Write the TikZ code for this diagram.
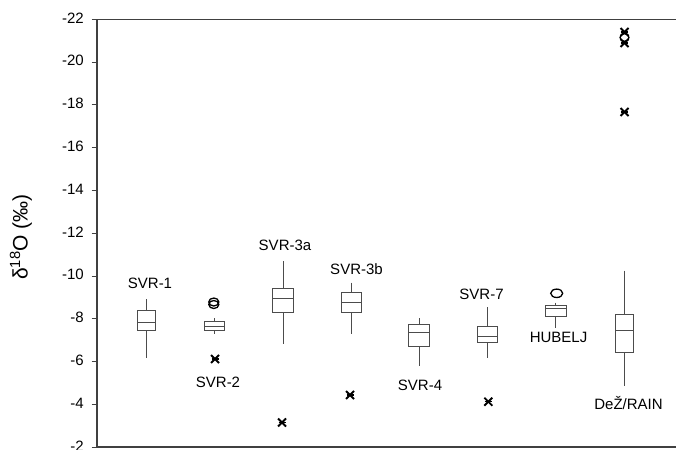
\documentclass[tikz,border=0pt]{standalone}
\usepackage{fontspec}
\setmainfont{Liberation Sans}
\begin{document}
\begin{tikzpicture}[x=1pt,y=-1pt,
  frame/.style={draw=black!75,line width=1.3pt},
  boxline/.style={draw=black!70,line width=0.7pt},
  lbl/.style={font=\fontsize{15}{18}\selectfont,inner sep=0pt},
  ticklbl/.style={font=\fontsize{15}{18}\selectfont,inner sep=0pt,anchor=east},
  outl/.style={draw=black,line width=1.3pt},
  extr/.style={draw=black,line width=1.8pt}]
\useasboundingbox (0,0) rectangle (676,449);
% frame
\draw[frame] (676,19.3) -- (97,19.3) -- (97,447) -- (676,447);
% ticks and labels
\foreach \v/\t in {-22/a,-20/b,-18/c,-16/d,-14/e,-12/f,-10/g,-8/h,-6/i,-4/j,-2/k}{
  \pgfmathsetmacro{\yy}{19.3+(\v+22)*21.4}
  \draw[frame,line width=1pt] (91.5,\yy) -- (97,\yy);
  \node[ticklbl] (tick\t) at (84,\yy-1.5) {\v};
}
% y label
\node[rotate=90,font=\fontsize{21}{24}\selectfont,inner sep=0pt] (ylab) at (21,237) {δ\textsuperscript{18}O (‰)};
% boxplot macro-like drawing
\newcommand{\bxp}[8]{% x, halfwidth, wtop, btop, med, bbot, wbot, name
  \draw[boxline] (#1,#3) -- (#1,#4);
  \draw[boxline] (#1,#6) -- (#1,#7);
  \draw[boxline] (#1-#2,#4) rectangle (#1+#2,#6);
  \draw[boxline] (#1-#2,#5) -- (#1+#2,#5);
  \coordinate (#8) at (#1,#3);
}
\newcommand{\extmark}[2]{%
  \draw[extr] (#1-4,#2-4) -- (#1+4,#2+4);
  \draw[extr] (#1-4,#2+4) -- (#1+4,#2-4);
  \draw[extr,line width=1.2pt] (#1-3.5,#2) -- (#1+3.5,#2);
}
% SVR-1
\bxp{146}{9}{299}{310.7}{322}{330.7}{357.7}{b1}
\node[lbl] (l1) at (150,283) {SVR-1};
% SVR-2
\bxp{214.3}{10}{318.3}{321.7}{326}{330}{334.3}{b2}
\draw[outl] (213.8,302) ellipse (5 and 4);
\draw[outl] (213.8,304.5) ellipse (5 and 4);
\extmark{215}{359}
\node[lbl] (l2) at (218,382) {SVR-2};
% SVR-3a
\bxp{283}{10.5}{261}{288.7}{298.7}{312.3}{344}{b3a}
\extmark{282}{422.5}
\node[lbl] (l3a) at (285,245.5) {SVR-3a};
% SVR-3b
\bxp{351.3}{10}{282.7}{292.3}{302.3}{312.3}{334}{b3b}
\extmark{350}{395}
\node[lbl] (l3b) at (356.5,269.5) {SVR-3b};
% SVR-4
\bxp{419}{10.3}{318.3}{324.3}{332.3}{346.3}{365.7}{b4}
\node[lbl] (l4) at (420,385) {SVR-4};
% SVR-7
\bxp{487}{10}{307}{326.3}{336.7}{342.3}{357.7}{b7}
\extmark{488.3}{401.7}
\node[lbl] (l7) at (481.5,294) {SVR-7};
% HUBELJ
\bxp{555.8}{10.3}{302.7}{305}{308}{316}{328.3}{bh}
\draw[outl] (556.7,293.3) ellipse (6 and 4.2);
\node[lbl] (lh) at (558.5,337) {HUBELJ};
% DeZ/RAIN
\bxp{624.5}{9.2}{270.7}{314.3}{330.7}{352.7}{386}{bd}
\extmark{624.5}{112}
\extmark{624.5}{32}
\extmark{624.5}{43}
\draw[outl] (624.5,37.5) ellipse (4.5 and 3.8);
\node[lbl] (ld) at (628.5,403.5) {DeŽ/RAIN};
\end{tikzpicture}
\end{document}
